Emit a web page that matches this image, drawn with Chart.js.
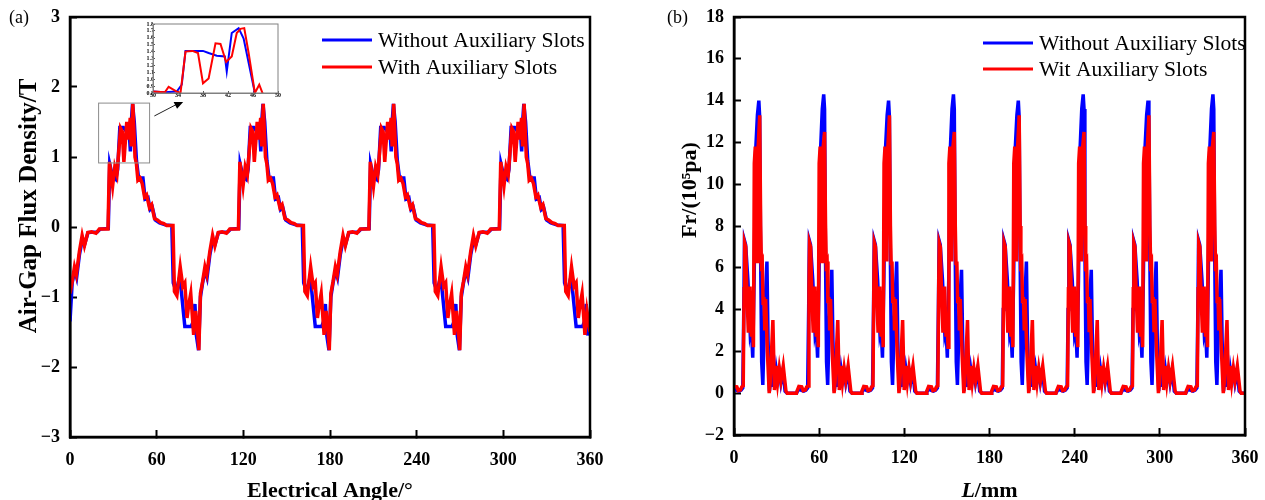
<!DOCTYPE html>
<html>
<head>
<meta charset="utf-8">
<script src="https://cdn.jsdelivr.net/npm/chart.js@4.4.1/dist/chart.umd.min.js"></script>
<style>
  body { margin: 0; background: #fff; }
  #wrap { position: relative; width: 1265px; height: 500px; }
  canvas { position: absolute; top: 0; }
</style>
</head>
<body>
<div id="wrap">
  <canvas id="fluxChart" width="640" height="500" style="left:0"></canvas>
  <canvas id="forceChart" width="625" height="500" style="left:640px"></canvas>
  <canvas id="insetChart" width="145" height="82" style="left:138px;top:20px;background:#fff"></canvas>
</div>
<script>
// (a) air-gap flux density, [electrical angle, T]
const fluxLabels = ['Without Auxiliary Slots', 'With Auxiliary Slots'];
const fluxWithout = [
  [0,-1.35],[1.5,-0.8],[3.3,-0.62],[4.6,-0.72],[6.5,-0.4],[8.5,-0.18],[10.2,-0.24],[12.5,-0.08],[19,-0.07],[21,-0.03],[26.5,-0.02],
  [27.5,0.9],[29.5,0.72],[31.7,0.68],[33,0.82],[34.5,1.42],[37,1.42],[38.5,1.38],[40,1.35],[41,1.34],[41.8,1.08],[42.6,1.55],[43.3,1.76],
  [44.5,1.5],[46,0.95],[47.5,0.7],[50.5,0.7],[52,0.4],[54,0.42],[55.5,0.25],[57,0.28],[59,0.1],[62,0.06],[66,0.03],[70.5,0.02],
  [71.5,-0.8],[73.5,-0.92],[75.5,-0.75],[77,-0.9],[79.5,-1.42],[84,-1.42],[85.3,-1.35],[86.5,-1.1],[87.5,-1.55],[89,-1.76],
  [90.3,-1.0],[91.8,-0.8],[93.6,-0.62],[94.9,-0.72],[96.8,-0.4],[98.8,-0.18],[100.5,-0.24],[102.8,-0.08],[109.3,-0.07],[111.3,-0.03],[116.8,-0.02],
  [117.8,0.9],[119.8,0.72],[122,0.68],[123.3,0.82],[124.8,1.42],[127.3,1.42],[128.8,1.38],[130.3,1.35],[131.3,1.34],[132.1,1.08],[132.9,1.55],[133.6,1.76],
  [134.8,1.5],[136.3,0.95],[137.8,0.7],[140.8,0.7],[142.3,0.4],[144.3,0.42],[145.8,0.25],[147.3,0.28],[149.3,0.1],[152.3,0.06],[156.3,0.03],[160.8,0.02],
  [161.8,-0.8],[163.8,-0.92],[165.8,-0.75],[167.3,-0.9],[169.8,-1.42],[174.3,-1.42],[175.6,-1.35],[176.8,-1.1],[177.8,-1.55],[179.3,-1.76],
  [180.6,-1.0],[182.1,-0.8],[183.9,-0.62],[185.2,-0.72],[187.1,-0.4],[189.1,-0.18],[190.8,-0.24],[193.1,-0.08],[199.6,-0.07],[201.6,-0.03],[207.1,-0.02],
  [208.1,0.9],[210.1,0.72],[212.3,0.68],[213.6,0.82],[215.1,1.42],[217.6,1.42],[219.1,1.38],[220.6,1.35],[221.6,1.34],[222.4,1.08],[223.2,1.55],[223.9,1.76],
  [225.1,1.5],[226.6,0.95],[228.1,0.7],[231.1,0.7],[232.6,0.4],[234.6,0.42],[236.1,0.25],[237.6,0.28],[239.6,0.1],[242.6,0.06],[246.6,0.03],[251.1,0.02],
  [252.1,-0.8],[254.1,-0.92],[256.1,-0.75],[257.6,-0.9],[260.1,-1.42],[264.6,-1.42],[265.9,-1.35],[267.1,-1.1],[268.1,-1.55],[269.6,-1.76],
  [270.9,-1.0],[272.4,-0.8],[274.2,-0.62],[275.5,-0.72],[277.4,-0.4],[279.4,-0.18],[281.1,-0.24],[283.4,-0.08],[289.9,-0.07],[291.9,-0.03],[297.4,-0.02],
  [298.4,0.9],[300.4,0.72],[302.6,0.68],[303.9,0.82],[305.4,1.42],[307.9,1.42],[309.4,1.38],[310.9,1.35],[311.9,1.34],[312.7,1.08],[313.5,1.55],[314.2,1.76],
  [315.4,1.5],[316.9,0.95],[318.4,0.7],[321.4,0.7],[322.9,0.4],[324.9,0.42],[326.4,0.25],[327.9,0.28],[329.9,0.1],[332.9,0.06],[336.9,0.03],[341.4,0.02],
  [342.4,-0.8],[344.4,-0.92],[346.4,-0.75],[347.9,-0.9],[350.4,-1.42],[354.9,-1.42],[356.2,-1.35],[357.4,-1.1],[358.4,-1.55],[360,-1.3]
];
const fluxWith = [
  [0,-0.95],[1.5,-0.78],[3.1,-0.57],[4.4,-0.68],[6.5,-0.35],[8.4,-0.12],[10,-0.27],[12.3,-0.08],[15,-0.07],[18,-0.09],[20.3,-0.03],[26.3,-0.03],
  [27.3,0.93],[29.5,0.58],[31,0.86],[32.5,0.75],[35,1.41],[36.2,1.36],[37.3,0.93],[39.3,1.5],[40.5,1.25],[41.7,1.56],[42.4,1.15],[43.5,1.76],
  [45,1.0],[46,0.9],[47,0.67],[48.5,0.7],[50,0.62],[51.6,0.43],[53,0.46],[55,0.28],[56.5,0.32],[58.5,0.12],[60.5,0.1],[63,0.06],[65,0.05],[67,0.02],[71.3,0.02],
  [72.3,-0.92],[74,-0.98],[76.3,-0.57],[78.1,-0.85],[79.5,-0.8],[81,-1.3],[82.3,-1.1],[83.6,-0.95],[85.6,-1.54],[87,-1.2],[88,-1.4],[89.2,-1.76],
  [90.3,-0.95],[91.8,-0.78],[93.4,-0.57],[94.7,-0.68],[96.8,-0.35],[98.7,-0.12],[100.3,-0.27],[102.6,-0.08],[105.3,-0.07],[108.3,-0.09],[110.6,-0.03],[116.6,-0.03],
  [117.6,0.93],[119.8,0.58],[121.3,0.86],[122.8,0.75],[125.3,1.41],[126.5,1.36],[127.6,0.93],[129.6,1.5],[130.8,1.25],[132,1.56],[132.7,1.15],[133.8,1.76],
  [135.3,1.0],[136.3,0.9],[137.3,0.67],[138.8,0.7],[140.3,0.62],[141.9,0.43],[143.3,0.46],[145.3,0.28],[146.8,0.32],[148.8,0.12],[150.8,0.1],[153.3,0.06],[155.3,0.05],[157.3,0.02],[161.6,0.02],
  [162.6,-0.92],[164.3,-0.98],[166.6,-0.57],[168.4,-0.85],[169.8,-0.8],[171.3,-1.3],[172.6,-1.1],[173.9,-0.95],[175.9,-1.54],[177.3,-1.2],[178.3,-1.4],[179.5,-1.76],
  [180.6,-0.95],[182.1,-0.78],[183.7,-0.57],[185,-0.68],[187.1,-0.35],[189,-0.12],[190.6,-0.27],[192.9,-0.08],[195.6,-0.07],[198.6,-0.09],[200.9,-0.03],[206.9,-0.03],
  [207.9,0.93],[210.1,0.58],[211.6,0.86],[213.1,0.75],[215.6,1.41],[216.8,1.36],[217.9,0.93],[219.9,1.5],[221.1,1.25],[222.3,1.56],[223,1.15],[224.1,1.76],
  [225.6,1.0],[226.6,0.9],[227.6,0.67],[229.1,0.7],[230.6,0.62],[232.2,0.43],[233.6,0.46],[235.6,0.28],[237.1,0.32],[239.1,0.12],[241.1,0.1],[243.6,0.06],[245.6,0.05],[247.6,0.02],[251.9,0.02],
  [252.9,-0.92],[254.6,-0.98],[256.9,-0.57],[258.7,-0.85],[260.1,-0.8],[261.6,-1.3],[262.9,-1.1],[264.2,-0.95],[266.2,-1.54],[267.6,-1.2],[268.6,-1.4],[269.8,-1.76],
  [270.9,-0.95],[272.4,-0.78],[274,-0.57],[275.3,-0.68],[277.4,-0.35],[279.3,-0.12],[280.9,-0.27],[283.2,-0.08],[285.9,-0.07],[288.9,-0.09],[291.2,-0.03],[297.2,-0.03],
  [298.2,0.93],[300.4,0.58],[301.9,0.86],[303.4,0.75],[305.9,1.41],[307.1,1.36],[308.2,0.93],[310.2,1.5],[311.4,1.25],[312.6,1.56],[313.3,1.15],[314.4,1.76],
  [315.9,1.0],[316.9,0.9],[317.9,0.67],[319.4,0.7],[320.9,0.62],[322.5,0.43],[323.9,0.46],[325.9,0.28],[327.4,0.32],[329.4,0.12],[331.4,0.1],[333.9,0.06],[335.9,0.05],[337.9,0.02],[342.2,0.02],
  [343.2,-0.92],[344.9,-0.98],[347.2,-0.57],[349,-0.85],[350.4,-0.8],[351.9,-1.3],[353.2,-1.1],[354.5,-0.95],[356.5,-1.54],[357.9,-1.2],[360,-1.5]
];

// inset of (a): zoom on 30..50 degrees
const insetWithout = [
  [30,0.82],[31.9,0.81],[33.8,0.82],[34.6,0.92],[35.2,1.41],[38,1.41],[38.9,1.38],[40.2,1.34],[41.5,1.33],[41.8,1.11],
  [42.6,1.67],[43.7,1.74],[44.5,1.59],[46.3,0.8],[46.6,0.7]
];
const insetWith = [
  [30,0.82],[31.9,0.81],[32.5,0.89],[33.8,0.82],[34.4,0.8],[35.2,1.4],[36.3,1.41],[37.2,1.38],[38,0.94],[38.9,1.01],
  [40,1.52],[40.8,1.51],[41.7,1.25],[42.6,1.33],[43.4,1.67],[44,1.73],[44.6,1.74],[45.3,1.38],[46.3,0.8],[47,0.92],[47.6,0.78]
];

// (b) radial force density, [L mm, 10^5 Pa]
const forceLabels = ['Without Auxiliary Slots', 'Wit Auxiliary Slots'];
const forceWithout = [
  [0,0.2],[1.5,0.15],[3.5,0.1],[5,0.15],[6.2,0.25],[6.9,4.0],[7.4,7.3],[8.2,7.1],[9.8,5.4],[11.4,2.9],[12.2,3.2],[13.2,1.7],[14.2,5.5],[15.2,11.5],[16.5,13.3],[17.5,14.0],[18.1,13.2],[18.7,7],[19.5,1.5],[20.3,0.4],[21.3,3],[22,4.3],[23.2,6.3],[24,2.5],[25,0.1],[26,0.9],[26.7,0.3],[27.8,1.0],[28.8,0.3],[29.8,1.1],[30.8,0.6],[32,1.0],[33,0.5],[34.5,1.1],[36,0.1],[37.5,0],[44,0],
  [44.4,0.05],[45.7,0.2],[47.2,0.15],[49.2,0.1],[50.7,0.15],[51.9,0.25],[52.6,4.0],[53.1,7.3],[53.9,7.1],[55.5,5.4],[57.1,2.9],[57.9,3.2],[58.9,1.7],[59.9,5.5],[60.9,11.5],[62.2,13.6],[63.2,14.3],[63.8,13.6],[64.4,7],[65.2,1.5],[66,0.4],[67,3],[67.7,4.3],[68.9,5.9],[69.7,2.5],[70.7,0.1],[71.7,0.9],[72.4,0.3],[73.5,1.0],[74.5,0.3],[75.5,1.1],[76.5,0.6],[77.7,1.0],[78.7,0.5],[80.2,1.1],[81.7,0.1],[83.2,0],[89.7,0],
  [90.1,0.05],[91.4,0.2],[92.9,0.15],[94.9,0.1],[96.4,0.15],[97.6,0.25],[98.3,4.0],[98.8,7.3],[99.6,7.1],[101.2,5.4],[102.8,2.9],[103.6,3.2],[104.6,1.7],[105.6,5.5],[106.6,11.5],[107.9,13.3],[108.9,14.0],[109.5,13.2],[110.1,7],[110.9,1.5],[111.7,0.4],[112.7,3],[113.4,4.3],[114.6,6.3],[115.4,2.5],[116.4,0.1],[117.4,0.9],[118.1,0.3],[119.2,1.0],[120.2,0.3],[121.2,1.1],[122.2,0.6],[123.4,1.0],[124.4,0.5],[125.9,1.1],[127.4,0.1],[128.9,0],[135.4,0],
  [135.8,0.05],[137.1,0.2],[138.6,0.15],[140.6,0.1],[142.1,0.15],[143.3,0.25],[144,4.0],[144.5,7.3],[145.3,7.1],[146.9,5.4],[148.5,2.9],[149.3,3.2],[150.3,1.7],[151.3,5.5],[152.3,11.5],[153.6,13.6],[154.6,14.3],[155.2,13.6],[155.8,7],[156.6,1.5],[157.4,0.4],[158.4,3],[159.1,4.3],[160.3,5.9],[161.1,2.5],[162.1,0.1],[163.1,0.9],[163.8,0.3],[164.9,1.0],[165.9,0.3],[166.9,1.1],[167.9,0.6],[169.1,1.0],[170.1,0.5],[171.6,1.1],[173.1,0.1],[174.6,0],[181.1,0],
  [181.5,0.05],[182.8,0.2],[184.3,0.15],[186.3,0.1],[187.8,0.15],[189,0.25],[189.7,4.0],[190.2,7.3],[191,7.1],[192.6,5.4],[194.2,2.9],[195,3.2],[196,1.7],[197,5.5],[198,11.5],[199.3,13.3],[200.3,14.0],[200.9,13.2],[201.5,7],[202.3,1.5],[203.1,0.4],[204.1,3],[204.8,4.3],[206,6.3],[206.8,2.5],[207.8,0.1],[208.8,0.9],[209.5,0.3],[210.6,1.0],[211.6,0.3],[212.6,1.1],[213.6,0.6],[214.8,1.0],[215.8,0.5],[217.3,1.1],[218.8,0.1],[220.3,0],[226.8,0],
  [227.2,0.05],[228.5,0.2],[230,0.15],[232,0.1],[233.5,0.15],[234.7,0.25],[235.4,4.0],[235.9,7.3],[236.7,7.1],[238.3,5.4],[239.9,2.9],[240.7,3.2],[241.7,1.7],[242.7,5.5],[243.7,11.5],[245,13.6],[246,14.3],[246.6,13.6],[247.2,7],[248,1.5],[248.8,0.4],[249.8,3],[250.5,4.3],[251.7,5.9],[252.5,2.5],[253.5,0.1],[254.5,0.9],[255.2,0.3],[256.3,1.0],[257.3,0.3],[258.3,1.1],[259.3,0.6],[260.5,1.0],[261.5,0.5],[263,1.1],[264.5,0.1],[266,0],[272.5,0],
  [272.9,0.05],[274.2,0.2],[275.7,0.15],[277.7,0.1],[279.2,0.15],[280.4,0.25],[281.1,4.0],[281.6,7.3],[282.4,7.1],[284,5.4],[285.6,2.9],[286.4,3.2],[287.4,1.7],[288.4,5.5],[289.4,11.5],[290.7,13.3],[291.7,14.0],[292.3,13.2],[292.9,7],[293.7,1.5],[294.5,0.4],[295.5,3],[296.2,4.3],[297.4,6.3],[298.2,2.5],[299.2,0.1],[300.2,0.9],[300.9,0.3],[302,1.0],[303,0.3],[304,1.1],[305,0.6],[306.2,1.0],[307.2,0.5],[308.7,1.1],[310.2,0.1],[311.7,0],[318.2,0],
  [318.6,0.05],[319.9,0.2],[321.4,0.15],[323.4,0.1],[324.9,0.15],[326.1,0.25],[326.8,4.0],[327.3,7.3],[328.1,7.1],[329.7,5.4],[331.3,2.9],[332.1,3.2],[333.1,1.7],[334.1,5.5],[335.1,11.5],[336.4,13.6],[337.4,14.3],[338,13.6],[338.6,7],[339.4,1.5],[340.2,0.4],[341.2,3],[341.9,4.3],[343.1,5.9],[343.9,2.5],[344.9,0.1],[345.9,0.9],[346.6,0.3],[347.7,1.0],[348.7,0.3],[349.7,1.1],[350.7,0.6],[351.9,1.0],[352.9,0.5],[354.4,1.1],[355.9,0.1],[357.4,0],[360,0]
];
const forceWith = [
  [0,0.32],[2,0.3],[3,0.12],[4.5,0.15],[5.5,0.3],[6.5,0.35],[7.1,5],[7.5,7.2],[8.3,7.0],[9,5],[10.1,2.9],[11.3,5.1],[12.3,2.7],[13,3.5],[13.7,2.2],[14.3,11.0],[15,11.8],[15.7,8.0],[16.3,6.3],[16.9,11.6],[18.1,13.3],[18.8,8],[19.3,6.2],[19.9,6.3],[20.5,4.3],[21.1,4.6],[21.7,3.0],[22.3,4.5],[23.5,2.0],[24.8,0],[25.5,0.5],[27.4,3.5],[28.5,0.15],[29.5,1.3],[30.7,0.5],[31.9,1.2],[33.1,0.6],[34.7,1.3],[36.6,0.1],[37.5,0],[44,0],
  [44.4,0.1],[45.7,0.32],[47.7,0.3],[48.7,0.12],[50.2,0.15],[51.2,0.3],[52.2,0.35],[52.8,5],[53.2,7.2],[54,7.0],[54.7,5],[55.8,2.9],[57,5.1],[58,2.7],[58.7,3.5],[59.4,2.2],[60,11.0],[60.7,11.8],[61.4,8.0],[62,6.3],[62.6,11.6],[63.8,12.5],[64.5,8],[65,6.2],[65.6,6.3],[66.2,4.3],[66.8,4.6],[67.4,3.0],[68,4.5],[69.2,2.0],[70.5,0],[71.2,0.5],[73.1,3.5],[74.2,0.15],[75.2,1.3],[76.4,0.5],[77.6,1.2],[78.8,0.6],[80.4,1.3],[82.3,0.1],[83.2,0],[89.7,0],
  [90.1,0.1],[91.4,0.32],[93.4,0.3],[94.4,0.12],[95.9,0.15],[96.9,0.3],[97.9,0.35],[98.5,5],[98.9,7.2],[99.7,7.0],[100.4,5],[101.5,2.9],[102.7,5.1],[103.7,2.7],[104.4,3.5],[105.1,2.2],[105.7,11.0],[106.4,11.8],[107.1,8.0],[107.7,6.3],[108.3,11.6],[109.5,13.3],[110.2,8],[110.7,6.2],[111.3,6.3],[111.9,4.3],[112.5,4.6],[113.1,3.0],[113.7,4.5],[114.9,2.0],[116.2,0],[116.9,0.5],[118.8,3.5],[119.9,0.15],[120.9,1.3],[122.1,0.5],[123.3,1.2],[124.5,0.6],[126.1,1.3],[128,0.1],[128.9,0],[135.4,0],
  [135.8,0.1],[137.1,0.32],[139.1,0.3],[140.1,0.12],[141.6,0.15],[142.6,0.3],[143.6,0.35],[144.2,5],[144.6,7.2],[145.4,7.0],[146.1,5],[147.2,2.9],[148.4,5.1],[149.4,2.7],[150.1,3.5],[150.8,2.2],[151.4,11.0],[152.1,11.8],[152.8,8.0],[153.4,6.3],[154,11.6],[155.2,12.5],[155.9,8],[156.4,6.2],[157,6.3],[157.6,4.3],[158.2,4.6],[158.8,3.0],[159.4,4.5],[160.6,2.0],[161.9,0],[162.6,0.5],[164.5,3.5],[165.6,0.15],[166.6,1.3],[167.8,0.5],[169,1.2],[170.2,0.6],[171.8,1.3],[173.7,0.1],[174.6,0],[181.1,0],
  [181.5,0.1],[182.8,0.32],[184.8,0.3],[185.8,0.12],[187.3,0.15],[188.3,0.3],[189.3,0.35],[189.9,5],[190.3,7.2],[191.1,7.0],[191.8,5],[192.9,2.9],[194.1,5.1],[195.1,2.7],[195.8,3.5],[196.5,2.2],[197.1,11.0],[197.8,11.8],[198.5,8.0],[199.1,6.3],[199.7,11.6],[200.9,13.3],[201.6,8],[202.1,6.2],[202.7,6.3],[203.3,4.3],[203.9,4.6],[204.5,3.0],[205.1,4.5],[206.3,2.0],[207.6,0],[208.3,0.5],[210.2,3.5],[211.3,0.15],[212.3,1.3],[213.5,0.5],[214.7,1.2],[215.9,0.6],[217.5,1.3],[219.4,0.1],[220.3,0],[226.8,0],
  [227.2,0.1],[228.5,0.32],[230.5,0.3],[231.5,0.12],[233,0.15],[234,0.3],[235,0.35],[235.6,5],[236,7.2],[236.8,7.0],[237.5,5],[238.6,2.9],[239.8,5.1],[240.8,2.7],[241.5,3.5],[242.2,2.2],[242.8,11.0],[243.5,11.8],[244.2,8.0],[244.8,6.3],[245.4,11.6],[246.6,12.5],[247.3,8],[247.8,6.2],[248.4,6.3],[249,4.3],[249.6,4.6],[250.2,3.0],[250.8,4.5],[252,2.0],[253.3,0],[254,0.5],[255.9,3.5],[257,0.15],[258,1.3],[259.2,0.5],[260.4,1.2],[261.6,0.6],[263.2,1.3],[265.1,0.1],[266,0],[272.5,0],
  [272.9,0.1],[274.2,0.32],[276.2,0.3],[277.2,0.12],[278.7,0.15],[279.7,0.3],[280.7,0.35],[281.3,5],[281.7,7.2],[282.5,7.0],[283.2,5],[284.3,2.9],[285.5,5.1],[286.5,2.7],[287.2,3.5],[287.9,2.2],[288.5,11.0],[289.2,11.8],[289.9,8.0],[290.5,6.3],[291.1,11.6],[292.3,13.3],[293,8],[293.5,6.2],[294.1,6.3],[294.7,4.3],[295.3,4.6],[295.9,3.0],[296.5,4.5],[297.7,2.0],[299,0],[299.7,0.5],[301.6,3.5],[302.7,0.15],[303.7,1.3],[304.9,0.5],[306.1,1.2],[307.3,0.6],[308.9,1.3],[310.8,0.1],[311.7,0],[318.2,0],
  [318.6,0.1],[319.9,0.32],[321.9,0.3],[322.9,0.12],[324.4,0.15],[325.4,0.3],[326.4,0.35],[327,5],[327.4,7.2],[328.2,7.0],[328.9,5],[330,2.9],[331.2,5.1],[332.2,2.7],[332.9,3.5],[333.6,2.2],[334.2,11.0],[334.9,11.8],[335.6,8.0],[336.2,6.3],[336.8,11.6],[338,12.5],[338.7,8],[339.2,6.2],[339.8,6.3],[340.4,4.3],[341,4.6],[341.6,3.0],[342.2,4.5],[343.4,2.0],[344.7,0],[345.4,0.5],[347.3,3.5],[348.4,0.15],[349.4,1.3],[350.6,0.5],[351.8,1.2],[353,0.6],[354.6,1.3],[356.5,0.1],[357.4,0],[360,0]
];

const serif = '"Liberation Serif", "Times New Roman", serif';
const BLUE = 'rgb(0, 0, 255)';
const RED = 'rgb(255, 0, 0)';
const minus = v => (v < 0 ? '\u2212' + Math.abs(v) : String(v));

// frame, titles, legend and panel letter drawn over each main chart
const decor = {
  id: 'decor',
  afterDraw(chart, args, o) {
    const { ctx, chartArea: a, scales } = chart;
    ctx.save();
    ctx.strokeStyle = '#000';
    ctx.lineWidth = 2.5;
    ctx.strokeRect(a.left, a.top, a.right - a.left, a.bottom - a.top);

    ctx.fillStyle = '#000';
    ctx.textBaseline = 'middle';
    ctx.textAlign = 'left';
    ctx.font = '18px ' + serif;
    ctx.fillText(o.panel, o.panelX, 18);

    // x title, may mix italic parts
    let total = 0;
    o.xTitle.forEach(([t, f]) => { ctx.font = f + ' 22px ' + serif; total += ctx.measureText(t).width; });
    let tx = (a.left + a.right) / 2 - total / 2;
    o.xTitle.forEach(([t, f]) => {
      ctx.font = f + ' 22px ' + serif;
      ctx.fillText(t, tx, o.xTitleY);
      tx += ctx.measureText(t).width;
    });

    ctx.save();
    ctx.translate(o.yTitleX, o.yTitleY);
    ctx.rotate(-Math.PI / 2);
    ctx.textAlign = 'center';
    ctx.font = 'bold ' + o.yTitleSize + 'px ' + serif;
    ctx.fillText(o.yTitle, 0, 0);
    ctx.restore();

    chart.data.datasets.forEach((ds, i) => {
      const ly = o.legendY + i * o.legendGap;
      ctx.strokeStyle = ds.borderColor;
      ctx.lineWidth = 3;
      ctx.beginPath();
      ctx.moveTo(o.legendX, ly);
      ctx.lineTo(o.legendX + 50, ly);
      ctx.stroke();
      ctx.font = '21.6px ' + serif;
      ctx.textAlign = 'left';
      ctx.fillText(ds.label, o.legendX + 56, ly + 1);
    });

    if (o.zoomBox) {
      const { x, y } = scales;
      const b = o.zoomBox;
      const x0 = x.getPixelForValue(b.x0), x1 = x.getPixelForValue(b.x1);
      const y0 = y.getPixelForValue(b.y1), y1 = y.getPixelForValue(b.y0);
      ctx.strokeStyle = '#8c8c8c';
      ctx.lineWidth = 1;
      ctx.strokeRect(x0, y0, x1 - x0, y1 - y0);

      const fx = x.getPixelForValue(o.arrow.from[0]), fy = y.getPixelForValue(o.arrow.from[1]);
      const ex = x.getPixelForValue(o.arrow.to[0]), ey = y.getPixelForValue(o.arrow.to[1]);
      const ang = Math.atan2(ey - fy, ex - fx);
      ctx.strokeStyle = '#222';
      ctx.beginPath();
      ctx.moveTo(fx, fy);
      ctx.lineTo(ex - 8 * Math.cos(ang), ey - 8 * Math.sin(ang));
      ctx.stroke();
      ctx.fillStyle = '#000';
      ctx.beginPath();
      ctx.moveTo(ex, ey);
      ctx.lineTo(ex - 11 * Math.cos(ang) + 4 * Math.sin(ang), ey - 11 * Math.sin(ang) - 4 * Math.cos(ang));
      ctx.lineTo(ex - 11 * Math.cos(ang) - 4 * Math.sin(ang), ey - 11 * Math.sin(ang) + 4 * Math.cos(ang));
      ctx.closePath();
      ctx.fill();
    }
    ctx.restore();
  }
};

function lineSet(label, rows, color, order, width) {
  return {
    label,
    data: rows.map(([x, y]) => ({ x, y })),
    borderColor: color,
    backgroundColor: color,
    borderWidth: width,
    pointRadius: 0,
    tension: 0,
    order,
  };
}

// fixed axis size; drop the label overhang padding so the plot box stays put
const fitX = h => s => { s.height = h; s.paddingLeft = 0; s.paddingRight = 0; };
const fitY = w => s => { s.width = w; s.paddingTop = 0; s.paddingBottom = 0; };

function axis(min, max, step, size, padding, extra) {
  return Object.assign({
    type: 'linear',
    min, max,
    ticks: {
      stepSize: step,
      color: '#000',
      padding,
      autoSkip: false,
      maxRotation: 0,
      font: { family: serif, size, weight: 'bold' },
      callback: minus,
    },
    grid: { drawOnChartArea: false, drawTicks: true, tickLength: -7, tickWidth: 2, tickColor: '#000' },
    border: { display: true, color: '#000', width: 2.5 },
  }, extra);
}

const baseOptions = pad => ({
  responsive: false,
  animation: false,
  layout: { padding: pad },
  plugins: { legend: { display: false }, tooltip: { enabled: false } },
});

// (a)
const fluxOptions = baseOptions({ left: 0, top: 17, right: 50, bottom: 0 });
fluxOptions.scales = {
  x: axis(0, 360, 60, 18, 20, { afterFit: fitX(63) }),
  y: axis(-3, 3, 1, 18, 17, { afterFit: fitY(70) }),
};
fluxOptions.plugins.decor = {
  panel: '(a)', panelX: 9,
  xTitle: [['Electrical Angle/\u00b0', 'bold']], xTitleY: 491,
  yTitle: 'Air-Gap Flux Density/T', yTitleSize: 25, yTitleX: 30, yTitleY: 206,
  legendX: 322, legendY: 40, legendGap: 27,
  zoomBox: { x0: 19.8, x1: 55.1, y0: 0.915, y1: 1.77 },
  arrow: { from: [58.4, 1.586], to: [79.6, 1.814] },
};
new Chart(document.getElementById('fluxChart'), {
  type: 'line',
  data: { datasets: [
    lineSet(fluxLabels[0], fluxWithout, BLUE, 2, 3.5),
    lineSet(fluxLabels[1], fluxWith, RED, 1, 3.5),
  ] },
  options: fluxOptions,
  plugins: [decor],
});

// (b)
const forceOptions = baseOptions({ left: 0, top: 17, right: 20, bottom: 0 });
forceOptions.scales = {
  x: axis(0, 360, 60, 18, 20, { afterFit: fitX(65) }),
  y: axis(-2, 18, 2, 18, 17, { afterFit: fitY(94) }),
};
forceOptions.plugins.decor = {
  panel: '(b)', panelX: 27,
  xTitle: [['L', 'italic bold'], ['/mm', 'bold']], xTitleY: 491,
  yTitle: 'Fr/(10\u2075pa)', yTitleSize: 22, yTitleX: 50, yTitleY: 190,
  legendX: 343, legendY: 43, legendGap: 26,
};
new Chart(document.getElementById('forceChart'), {
  type: 'line',
  data: { datasets: [
    lineSet(forceLabels[0], forceWithout, BLUE, 2, 3.5),
    lineSet(forceLabels[1], forceWith, RED, 1, 3.5),
  ] },
  options: forceOptions,
  plugins: [decor],
});

// inset of (a)
const insetFrame = {
  id: 'insetFrame',
  afterDraw(chart) {
    const { ctx, chartArea: a } = chart;
    ctx.save();
    ctx.strokeStyle = '#808080';
    ctx.lineWidth = 1;
    ctx.strokeRect(a.left, a.top, a.right - a.left, a.bottom - a.top);
    ctx.restore();
  }
};
const insetTick = (min, max, step, extra) => Object.assign({
  type: 'linear', min, max,
  ticks: {
    stepSize: step, autoSkip: false, maxRotation: 0, padding: 1, color: '#000',
    font: { family: serif, size: 6, weight: 'bold' },
    callback: v => (step < 1 ? v.toFixed(1) : String(v)),
  },
  grid: { drawOnChartArea: false, tickLength: -2, tickColor: '#555', tickWidth: 1 },
  border: { display: true, color: '#808080', width: 1 },
}, extra);
const insetOptions = baseOptions({ left: 0, top: 4, right: 5, bottom: 0 });
insetOptions.scales = {
  x: insetTick(30, 50, 4, { afterFit: fitX(9) }),
  y: insetTick(0.8, 1.8, 0.1, { afterFit: fitY(15) }),
};
new Chart(document.getElementById('insetChart'), {
  type: 'line',
  data: { datasets: [
    lineSet(fluxLabels[0], insetWithout, BLUE, 2, 2),
    lineSet(fluxLabels[1], insetWith, RED, 1, 2),
  ] },
  options: insetOptions,
  plugins: [insetFrame],
});
</script>
</body>
</html>
